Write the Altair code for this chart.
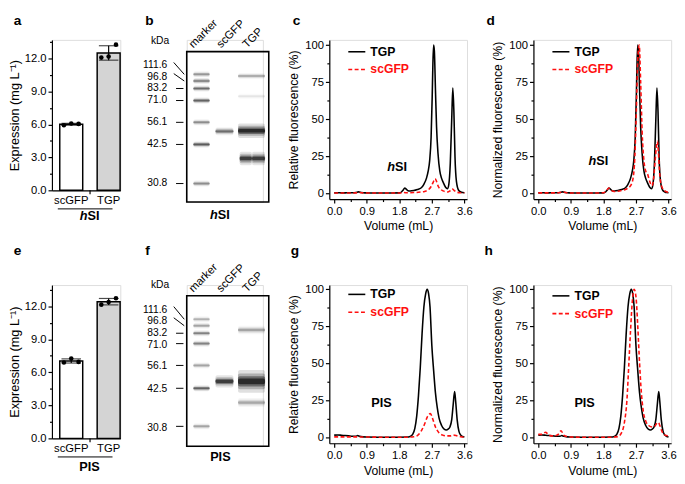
import altair as alt
import pandas as pd

FONT = "Liberation Sans"
RED = "#ff1010"

# ---------------- data ----------------
CATS = ["scGFP", "TGP"]
A_SCGFP = [5.92, 6.08, 6.05]
A_TGP = [12.09, 12.18, 13.27]
E_SCGFP = [6.90, 7.25, 6.95]
E_TGP = [12.15, 12.38, 12.73]

KDA = ["111.6", "96.8", "83.2", "71.0", "56.1", "42.5", "30.8"]
KDA_LABEL_RF = [0.092, 0.166, 0.245, 0.325, 0.470, 0.617, 0.877]
B_MARKER_RF = [0.151, 0.195, 0.245, 0.325, 0.470, 0.617, 0.877]
B_MARKER_INT = [0.35, 0.45, 0.55, 0.6, 0.4, 0.65, 0.4]
F_MARKER_RF = [0.156, 0.199, 0.249, 0.318, 0.463, 0.615, 0.868]
F_MARKER_INT = [0.25, 0.3, 0.45, 0.45, 0.3, 0.6, 0.3]
B_SCGFP_RF = [0.530]
B_SCGFP_INT = [0.55]
B_SCGFP_TH = [0.026]
B_TGP_RF = [0.162, 0.297, 0.526, 0.710]
B_TGP_INT = [0.3, 0.08, 1.0, 0.85]
B_TGP_TH = [0.02, 0.02, 0.048, 0.045]
B_TGP_DOUBLET = [False, False, False, True]
F_SCGFP_RF = [0.569]
F_SCGFP_INT = [0.85]
F_SCGFP_TH = [0.04]
F_TGP_RF = [0.227, 0.569, 0.710]
F_TGP_INT = [0.3, 1.0, 0.28]
F_TGP_TH = [0.028, 0.075, 0.03]
F_TGP_DOUBLET = [False, False, False]

C_TGP_X = [0.0, 0.1, 0.2, 0.3, 0.4, 0.5, 0.6, 0.67, 0.75, 0.85, 1.0, 1.2, 1.4, 1.6, 1.8,
           1.86, 1.91, 1.95, 1.99, 2.04, 2.1, 2.2, 2.3, 2.4, 2.48, 2.55, 2.6, 2.64, 2.68,
           2.71, 2.73, 2.75, 2.77, 2.8, 2.83, 2.87, 2.92, 2.97, 3.02, 3.08, 3.13, 3.17,
           3.21, 3.25, 3.28, 3.31, 3.34, 3.38, 3.44, 3.5, 3.55, 3.6]
C_TGP_Y = [0.2, 0.3, 0.2, 0.2, 0.3, 0.3, 0.5, 0.9, 0.5, 0.2, 0.1, 0.1, 0.1, 0.1, 0.2,
           0.8, 2.2, 3.5, 2.8, 1.7, 1.5, 1.8, 2.5, 3.5, 6, 10, 15, 22, 38,
           65, 88, 100, 96, 70, 45, 27, 15, 10, 7, 4, 3, 6,
           20, 50, 71, 55, 25, 8, 2, 0.8, 0.4, 0.3]
C_SC_X = [0.0, 0.3, 0.6, 0.7, 0.8, 1.2, 1.6, 1.9, 1.95, 2.0, 2.2, 2.4, 2.5, 2.6, 2.68,
          2.74, 2.79, 2.83, 2.88, 2.95, 3.05, 3.13, 3.2, 3.26, 3.32, 3.4, 3.5, 3.6]
C_SC_Y = [0.1, 0.1, 0.2, 0.5, 0.2, 0.1, 0.1, 0.2, 0.4, 0.3, 0.4, 0.8, 1.2, 2.2, 4.5,
          7.5, 9.8, 8, 4.5, 2.5, 1.2, 0.8, 1.5, 3, 1.8, 0.6, 0.3, 0.2]
D_SC_X = [0.0, 0.5, 0.7, 0.75, 0.8, 1.0, 1.5, 1.8, 1.88, 1.95, 2.02, 2.1, 2.3, 2.45,
          2.55, 2.62, 2.67, 2.71, 2.75, 2.79, 2.83, 2.87, 2.92, 2.97, 3.02, 3.08, 3.14,
          3.19, 3.23, 3.26, 3.29, 3.32, 3.36, 3.42, 3.5, 3.6]
D_SC_Y = [0.2, 0.2, 0.8, 0.4, 0.2, 0.1, 0.1, 0.3, 1.5, 3.5, 2, 1.2, 1.8, 3,
          5, 10, 25, 55, 90, 100, 75, 42, 22, 15, 13, 8, 5,
          10, 22, 30, 35, 28, 12, 4, 1.5, 0.5]
G_TGP_X = [0.0, 0.1, 0.2, 0.3, 0.4, 0.5, 0.6, 0.65, 0.7, 0.8, 0.9, 1.2, 1.5, 1.8, 2.0,
           2.1, 2.17, 2.23, 2.28, 2.33, 2.38, 2.43, 2.48, 2.53, 2.57, 2.61, 2.65, 2.7,
           2.75, 2.8, 2.85, 2.9, 2.97, 3.04, 3.1, 3.15, 3.2, 3.25, 3.29, 3.33, 3.36, 3.4,
           3.45, 3.5, 3.55, 3.6]
G_TGP_Y = [1.5, 1.6, 1.4, 1.2, 1.0, 0.8, 0.8, 1.2, 0.7, 0.3, 0.2, 0.1, 0.1, 0.1, 0.2,
           0.6, 2, 6, 14, 28, 47, 70, 88, 97, 100, 97, 88, 62,
           45, 30, 20, 13, 8, 5.5, 5, 5.5, 7, 12, 22, 31, 24, 12,
           4, 1.5, 0.6, 0.3]
G_SC_X = [0.0, 0.3, 0.6, 0.9, 1.5, 2.0, 2.2, 2.3, 2.4, 2.5, 2.58, 2.66, 2.73, 2.8, 2.9,
          3.0, 3.1, 3.2, 3.3, 3.4, 3.5, 3.6]
G_SC_Y = [0.3, 0.3, 0.3, 0.2, 0.1, 0.1, 0.4, 1.2, 4, 9, 14, 16, 12, 7, 3,
          1.5, 1, 1, 1.5, 1, 0.4, 0.2]
H_SC_X = [0.0, 0.1, 0.2, 0.27, 0.35, 0.45, 0.55, 0.63, 0.7, 0.8, 0.9, 1.2, 1.6, 2.0, 2.2,
          2.3, 2.38, 2.45, 2.5, 2.55, 2.6, 2.65, 2.7, 2.75, 2.8, 2.85, 2.9, 2.97, 3.05,
          3.15, 3.22, 3.28, 3.32, 3.36, 3.42, 3.5, 3.6]
H_SC_Y = [2, 2, 3.5, 2, 1, 1, 2, 4.5, 1.5, 0.5, 0.2, 0.1, 0.1, 0.1, 0.5,
          3, 10, 25, 48, 72, 92, 100, 95, 75, 50, 30, 18, 11, 8,
          7, 7.5, 9.5, 10, 8, 4, 1.5, 1]

# ---------------- helpers ----------------
AX = dict(domainColor="black", tickColor="black", labelColor="black", titleColor="black",
          labelFont=FONT, titleFont=FONT, grid=False, labelOverlap=False, labelFlush=False,
          domainWidth=1.2, tickWidth=1.2, titleFontWeight="normal")


def letter_layer(letter, dx, dy):
    return alt.Chart(pd.DataFrame({"t": [letter]})).mark_text(
        fontSize=14, fontWeight="bold", align="left", baseline="alphabetic",
        font=FONT, color="black").encode(text="t:N", x=alt.value(dx), y=alt.value(dy))


def text_value_layer(txt, dx, dy, align="center", style="normal", size=13):
    return alt.Chart(pd.DataFrame({"t": [txt]})).mark_text(
        fontSize=size, fontWeight="bold", fontStyle=style, align=align, baseline="middle",
        font=FONT, color="black").encode(text="t:N", x=alt.value(dx), y=alt.value(dy))


BAR_W = 70          # plot width of the bar panels
BAND = 23.5         # bar width
STEP = 38.3         # distance between bar starts
LEFT_OUT = 8.0      # gap between y axis and first bar


def bar_panel(sc_vals, tgp_vals, ytop, height, label, letter, letter_dy):
    rows = []
    for cat, vals in zip(CATS, [sc_vals, tgp_vals]):
        for i, v in enumerate(vals):
            rows.append({"cat": cat, "rep": i, "val": v})
    pts = pd.DataFrame(rows)
    summ = pts.groupby("cat", sort=False)["val"].agg(["mean", "std"]).reset_index()
    summ["lo"] = summ["mean"] - summ["std"]
    summ["hi"] = summ["mean"] + summ["std"]

    p_in = (STEP - BAND) / STEP
    p_out = (BAR_W / STEP - 2 + p_in) / 2
    align = LEFT_OUT / (2 * p_out * STEP)
    xs = alt.Scale(domain=CATS, paddingInner=p_in, paddingOuter=p_out, align=min(align, 1))
    ys = alt.Scale(domain=[0, ytop], nice=False, zero=False)
    major = "datum.value % 3 === 0"
    xax = alt.Axis(title=None, ticks=False, labelAngle=0, labelFontSize=11.5, labelPadding=4,
                   **AX)
    yax = alt.Axis(title="Expression (mg L⁻¹)", values=[1.5 * i for i in range(10)],
                   labelExpr=f"{major} ? format(datum.value, '.1f') : ''",
                   tickSize={"condition": {"test": major, "value": 4}, "value": 2.5},
                   labelFontSize=11.5, titleFontSize=13, labelPadding=2, titlePadding=3, **AX)
    X = alt.X("cat:N", scale=xs, axis=xax, sort=CATS)
    bars = alt.Chart(summ).mark_bar(stroke="black", strokeWidth=1.5).encode(
        x=X, y=alt.Y("mean:Q", scale=ys, axis=yax),
        fill=alt.Fill("cat:N", scale=alt.Scale(domain=CATS, range=["white", "#d4d4d4"]),
                      legend=None))
    err = alt.Chart(summ).mark_rule(color="black", strokeWidth=1.2).encode(
        x=X, y=alt.Y("lo:Q", scale=ys, axis=yax), y2="hi:Q")
    cap_hi = alt.Chart(summ).mark_tick(color="black", thickness=1.2, size=20,
                                       orient="horizontal").encode(
        x=X, y=alt.Y("hi:Q", scale=ys, axis=yax))
    cap_lo = alt.Chart(summ).mark_tick(color="black", thickness=1.2, size=20,
                                       orient="horizontal").encode(
        x=X, y=alt.Y("lo:Q", scale=ys, axis=yax))
    dots = []
    for i, off in enumerate([-7.5, 0, 7.5]):
        dots.append(alt.Chart(pts[pts.rep == i]).mark_circle(color="black", size=22,
                                                             opacity=1).encode(
            x=X, y=alt.Y("val:Q", scale=ys, axis=yax), xOffset=alt.value(BAND / 2 + off)))
    under = alt.Chart(pd.DataFrame({"k": [0]})).mark_rule(color="black", strokeWidth=1).encode(
        x=alt.value(6), x2=alt.value(62), y=alt.value(height + 19))
    midtick = alt.Chart(pd.DataFrame({"k": [0]})).mark_rule(color="black", strokeWidth=1.2).encode(
        x=alt.value(39), y=alt.value(height), y2=alt.value(height + 4))
    layers = [bars, err, cap_hi, cap_lo] + dots + [under, midtick]
    if label == "hSI":
        layers.append(text_value_layer("h", 36.5, height + 26, align="right", style="italic"))
        layers.append(text_value_layer("SI", 36.5, height + 26, align="left"))
    else:
        layers.append(text_value_layer(label, 38.5, height + 29))
    layers.append(letter_layer(letter, -39, letter_dy))
    return alt.layer(*layers).properties(width=BAR_W, height=height)


LANES = {"marker": (0.18, 0.20), "scGFP": (0.46, 0.22), "TGP": (0.79, 0.33),
         "TGP_l": (0.72, 0.15), "TGP_r": (0.875, 0.16)}


def gel_panel(mrf, mint, srf, sint, sth, trf, tint, tth, tdbl, label, ytop, height, letter,
              letter_dy):
    rows = []
    for rf, it in zip(mrf, mint):
        rows.append(("marker", rf, it, 0.02))
    for rf, it, th in zip(srf, sint, sth):
        rows.append(("scGFP", rf, it, th))
    for rf, it, th, dbl in zip(trf, tint, tth, tdbl):
        if dbl:
            rows.append(("TGP_l", rf, it, th))
            rows.append(("TGP_r", rf, it, th))
        else:
            rows.append(("TGP", rf, it, th))
    df = pd.DataFrame(rows, columns=["lane", "rf", "inten", "th"])
    df["x0"] = [LANES[l][0] - LANES[l][1] / 2 for l in df.lane]
    df["x1"] = [LANES[l][0] + LANES[l][1] / 2 for l in df.lane]

    xs = alt.Scale(domain=[0, 78 / 84], nice=False, zero=False)
    ys = alt.Scale(domain=[ytop, 1.0], reverse=True, nice=False, zero=False)
    X = lambda f: alt.X(f, scale=xs, axis=None)
    Y = lambda f: alt.Y(f, scale=ys, axis=None)

    layers = []
    for spread, k in [(2.0, 0.12), (1.4, 0.22), (0.9, 0.4), (0.5, 0.6)]:
        layers.append(alt.Chart(df).transform_calculate(
            y0=f"datum.rf - datum.th * {spread / 2}", y1=f"datum.rf + datum.th * {spread / 2}",
            op=f"min(1, datum.inten * {k})").mark_rect(color="black", cornerRadius=2).encode(
            x=X("x0:Q"), x2="x1:Q", y=Y("y0:Q"), y2="y1:Q",
            opacity=alt.Opacity("op:Q", scale=None)))
    box = alt.Chart(pd.DataFrame({"x0": [0], "x1": [1], "y0": [0], "y1": [1]})).mark_rect(
        fillOpacity=0, stroke="black", strokeWidth=1.6).encode(
        x=X("x0:Q"), x2="x1:Q", y=Y("y0:Q"), y2="y1:Q")
    layers.append(box)

    lab = pd.DataFrame({"kda": KDA, "lrf": KDA_LABEL_RF, "brf": mrf})
    lab["lx"] = -0.238
    layers.append(alt.Chart(lab).mark_text(align="right", baseline="middle", fontSize=10.5,
                                           font=FONT, color="black").encode(
        x=X("lx:Q"), y=Y("lrf:Q"), text="kda:N"))
    diag = lab.iloc[:2].copy()
    diag["ly"] = diag["lrf"] - 0.02
    diag["x_a"] = -0.158
    diag["x_b"] = -0.03
    layers.append(alt.Chart(diag).mark_rule(color="black", strokeWidth=1).encode(
        x=X("x_a:Q"), x2="x_b:Q", y=Y("ly:Q"), y2="brf:Q"))
    dash = lab.iloc[2:].copy()
    dash["x_a"] = -0.13
    dash["x_b"] = -0.04
    layers.append(alt.Chart(dash).mark_rule(color="black", strokeWidth=1).encode(
        x=X("x_a:Q"), x2="x_b:Q", y=Y("brf:Q")))
    kda = pd.DataFrame({"t": ["kDa"], "x": [-0.214], "y": [-0.071]})
    layers.append(alt.Chart(kda).mark_text(align="right", baseline="middle", fontSize=10.5,
                                           font=FONT, color="black").encode(
        x=X("x:Q"), y=Y("y:Q"), text="t:N"))
    lanes = pd.DataFrame({"t": ["marker", "scGFP", "TGP"], "x": [0.08, 0.417, 0.735],
                          "y": [-0.021, -0.021, -0.021]})
    layers.append(alt.Chart(lanes).mark_text(align="left", baseline="alphabetic", angle=315,
                                             fontSize=11.5, font=FONT, color="black").encode(
        x=X("x:Q"), y=Y("y:Q"), text="t:N"))
    if label == "hSI":
        lb = pd.DataFrame({"t": ["h", "SI"], "x": [0.378, 0.378], "y": [1.084, 1.084],
                           "al": ["r", "l"]})
        layers.append(alt.Chart(lb[lb.al == "r"]).mark_text(
            align="right", baseline="middle", fontSize=13, fontWeight="bold",
            fontStyle="italic", font=FONT, color="black").encode(
            x=X("x:Q"), y=Y("y:Q"), text="t:N"))
        layers.append(alt.Chart(lb[lb.al == "l"]).mark_text(
            align="left", baseline="middle", fontSize=13, fontWeight="bold",
            font=FONT, color="black").encode(x=X("x:Q"), y=Y("y:Q"), text="t:N"))
    else:
        lb = pd.DataFrame({"t": [label], "x": [0.41], "y": [1.07]})
        layers.append(alt.Chart(lb).mark_text(
            align="center", baseline="middle", fontSize=13, fontWeight="bold",
            font=FONT, color="black").encode(x=X("x:Q"), y=Y("y:Q"), text="t:N"))
    layers.append(letter_layer(letter, -42.5, letter_dy))
    return alt.layer(*layers).properties(width=78, height=height)


XVALS = [round(0.45 * i, 2) for i in range(9)]
XMAJ = "abs(datum.value / 0.9 - round(datum.value / 0.9)) < 0.01"
YMAJ = "datum.value % 25 === 0"


def chrom_panel(tx, ty, sx, sy, ytitle, ydom, height, label, lab_x, lab_y, leg_y, letter,
                letter_dx, letter_dy):
    xs = alt.Scale(domain=[-0.135, 3.673], nice=False, zero=False)
    ys = alt.Scale(domain=ydom, nice=False, zero=False)
    xax = alt.Axis(title="Volume (mL)", values=XVALS,
                   labelExpr=f"{XMAJ} ? format(datum.value, '.1f') : ''",
                   tickSize={"condition": {"test": XMAJ, "value": 4}, "value": 2.5},
                   labelFontSize=11.5, titleFontSize=12.5, labelPadding=3, titlePadding=3, **AX)
    yax = alt.Axis(title=ytitle, values=[12.5 * i for i in range(9)],
                   labelExpr=f"{YMAJ} ? format(datum.value, 'd') : ''",
                   tickSize={"condition": {"test": YMAJ, "value": 4}, "value": 2.5},
                   labelFontSize=11.5, titleFontSize=12.5, labelPadding=2, titlePadding=4, **AX)
    X = lambda f: alt.X(f, scale=xs, axis=xax)
    Y = lambda f: alt.Y(f, scale=ys, axis=yax)
    tgp = alt.Chart(pd.DataFrame({"v": tx, "f": ty})).mark_line(
        color="black", strokeWidth=1.6, interpolate="monotone").encode(x=X("v:Q"), y=Y("f:Q"))
    sc = alt.Chart(pd.DataFrame({"v": sx, "f": sy})).mark_line(
        color=RED, strokeWidth=1.6, strokeDash=[4, 2.5], interpolate="monotone").encode(
        x=X("v:Q"), y=Y("f:Q"))
    leg = pd.DataFrame({"a": [0.39, 0.39], "b": [0.86, 0.86], "y": leg_y,
                        "t": ["TGP", "scGFP"], "tx": [1.0, 1.0]})
    r1 = alt.Chart(leg.iloc[:1]).mark_rule(color="black", strokeWidth=1.6).encode(
        x=X("a:Q"), x2="b:Q", y=Y("y:Q"))
    r2 = alt.Chart(leg.iloc[1:]).mark_rule(color=RED, strokeWidth=1.6,
                                           strokeDash=[4, 2.5]).encode(
        x=X("a:Q"), x2="b:Q", y=Y("y:Q"))
    t1 = alt.Chart(leg.iloc[:1]).mark_text(align="left", baseline="middle", fontSize=12.5,
                                           fontWeight="bold", font=FONT, color="black").encode(
        x=X("tx:Q"), y=Y("y:Q"), text="t:N")
    t2 = alt.Chart(leg.iloc[1:]).mark_text(align="left", baseline="middle", fontSize=12.5,
                                           fontWeight="bold", font=FONT, color=RED).encode(
        x=X("tx:Q"), y=Y("y:Q"), text="t:N")
    layers = [tgp, sc, r1, r2, t1, t2]
    if label == "hSI":
        lb = pd.DataFrame({"t": ["h", "SI"], "x": [lab_x, lab_x], "y": [lab_y, lab_y]})
        layers.append(alt.Chart(lb.iloc[:1]).mark_text(
            align="right", baseline="middle", fontSize=13, fontWeight="bold",
            fontStyle="italic", font=FONT, color="black").encode(
            x=X("x:Q"), y=Y("y:Q"), text="t:N"))
        layers.append(alt.Chart(lb.iloc[1:]).mark_text(
            align="left", baseline="middle", fontSize=13, fontWeight="bold",
            font=FONT, color="black").encode(x=X("x:Q"), y=Y("y:Q"), text="t:N"))
    else:
        lb = pd.DataFrame({"t": [label], "x": [lab_x], "y": [lab_y]})
        layers.append(alt.Chart(lb).mark_text(
            align="center", baseline="middle", fontSize=13, fontWeight="bold",
            font=FONT, color="black").encode(x=X("x:Q"), y=Y("y:Q"), text="t:N"))
    layers.append(letter_layer(letter, letter_dx, letter_dy))
    return alt.layer(*layers).properties(width=141, height=height)


TOP_DY = -15
BOT_DY = -30.5

pa = bar_panel(A_SCGFP, A_TGP, 13.7, 154, "hSI", "a", TOP_DY)
pb = gel_panel(B_MARKER_RF, B_MARKER_INT, B_SCGFP_RF, B_SCGFP_INT, B_SCGFP_TH,
               B_TGP_RF, B_TGP_INT, B_TGP_TH, B_TGP_DOUBLET, "hSI", -0.078, 166, "b", TOP_DY)
pc = chrom_panel(C_TGP_X, C_TGP_Y, C_SC_X, C_SC_Y, "Relative fluorescence (%)",
                 [-4, 103.5], 163, "hSI", 1.68, 17.8, [95.5, 83.5], "c", -37.5, TOP_DY)
pd_ = chrom_panel(C_TGP_X, C_TGP_Y, D_SC_X, D_SC_Y, "Normalized fluorescence (%)",
                  [-4, 103.5], 163, "hSI", 1.60, 21.7, [95.5, 83.5], "d", -48, TOP_DY)
pe = bar_panel(E_SCGFP, E_TGP, 13.93, 157, "PIS", "e", BOT_DY)
pf = gel_panel(F_MARKER_RF, F_MARKER_INT, F_SCGFP_RF, F_SCGFP_INT, F_SCGFP_TH,
               F_TGP_RF, F_TGP_INT, F_TGP_TH, F_TGP_DOUBLET, "PIS", -0.0714, 165, "f", BOT_DY)
pg = chrom_panel(G_TGP_X, G_TGP_Y, G_SC_X, G_SC_Y, "Relative fluorescence (%)",
                 [-4, 102.8], 162, "PIS", 1.31, 23, [96.5, 84.5], "g", -39.5, BOT_DY)
ph = chrom_panel(G_TGP_X, G_TGP_Y, H_SC_X, H_SC_Y, "Normalized fluorescence (%)",
                 [-4, 102.8], 162, "PIS", 1.28, 23, [95.5, 83.5], "h", -50, BOT_DY)

chart = alt.concat(pa, pb, pc, pd_, pe, pf, pg, ph, columns=4,
                   spacing={"row": 85, "column": 68}).properties(
    bounds="flush", align="each", padding={"left": 0, "top": 0, "right": 0, "bottom": 0}
).configure_view(strokeWidth=0).configure(font=FONT, background="white")

chart.save("out.html", embed_options={"renderer": "svg", "actions": False})
